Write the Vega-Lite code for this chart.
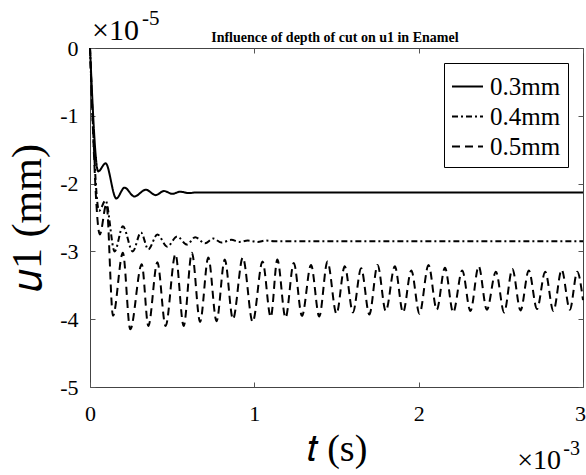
{
  "$schema": "https://vega.github.io/schema/vega-lite/v6.json",
  "width": 493,
  "height": 339,
  "autosize": {"type": "none"},
  "padding": {"left": 90, "top": 48, "right": 3, "bottom": 88},
  "background": "white",
  "config": {"view": {"stroke": "#444", "strokeWidth": 1}, "font": "Liberation Serif"},
  "resolve": {"axis": {"x": "independent", "y": "independent"}},
  "layer": [
    {
      "data": {"values": [
        {"depth": "0.3mm", "t": 0, "u": 0},
        {"depth": "0.3mm", "t": 0.05, "u": -1.82},
        {"depth": "0.3mm", "t": 0.095, "u": -1.7},
        {"depth": "0.3mm", "t": 0.16, "u": -2.22},
        {"depth": "0.3mm", "t": 0.21, "u": -2.06},
        {"depth": "0.3mm", "t": 0.27, "u": -2.19},
        {"depth": "0.3mm", "t": 0.34, "u": -2.09},
        {"depth": "0.3mm", "t": 0.4, "u": -2.17},
        {"depth": "0.3mm", "t": 0.45, "u": -2.11},
        {"depth": "0.3mm", "t": 0.5, "u": -2.15},
        {"depth": "0.3mm", "t": 0.55, "u": -2.12},
        {"depth": "0.3mm", "t": 0.6, "u": -2.14},
        {"depth": "0.3mm", "t": 0.65, "u": -2.13},
        {"depth": "0.3mm", "t": 3.0, "u": -2.13},
        {"depth": "0.4mm", "t": 0, "u": 0},
        {"depth": "0.4mm", "t": 0.055, "u": -2.4},
        {"depth": "0.4mm", "t": 0.095, "u": -2.25},
        {"depth": "0.4mm", "t": 0.15, "u": -3.0},
        {"depth": "0.4mm", "t": 0.2, "u": -2.63},
        {"depth": "0.4mm", "t": 0.26, "u": -3.0},
        {"depth": "0.4mm", "t": 0.31, "u": -2.72},
        {"depth": "0.4mm", "t": 0.355, "u": -2.97},
        {"depth": "0.4mm", "t": 0.41, "u": -2.75},
        {"depth": "0.4mm", "t": 0.47, "u": -2.93},
        {"depth": "0.4mm", "t": 0.53, "u": -2.78},
        {"depth": "0.4mm", "t": 0.59, "u": -2.9},
        {"depth": "0.4mm", "t": 0.64, "u": -2.79},
        {"depth": "0.4mm", "t": 0.7, "u": -2.88},
        {"depth": "0.4mm", "t": 0.75, "u": -2.81},
        {"depth": "0.4mm", "t": 0.8, "u": -2.87},
        {"depth": "0.4mm", "t": 0.86, "u": -2.83},
        {"depth": "0.4mm", "t": 0.91, "u": -2.86},
        {"depth": "0.4mm", "t": 0.96, "u": -2.84},
        {"depth": "0.4mm", "t": 1.02, "u": -2.86},
        {"depth": "0.4mm", "t": 1.07, "u": -2.84},
        {"depth": "0.4mm", "t": 1.12, "u": -2.85},
        {"depth": "0.4mm", "t": 3.0, "u": -2.85},
        {"depth": "0.5mm", "t": 0, "u": 0},
        {"depth": "0.5mm", "t": 0.06, "u": -2.75},
        {"depth": "0.5mm", "t": 0.1, "u": -2.3},
        {"depth": "0.5mm", "t": 0.14, "u": -3.95},
        {"depth": "0.5mm", "t": 0.2, "u": -3.02},
        {"depth": "0.5mm", "t": 0.245, "u": -4.15},
        {"depth": "0.5mm", "t": 0.315, "u": -3.19},
        {"depth": "0.5mm", "t": 0.355, "u": -4.1},
        {"depth": "0.5mm", "t": 0.41, "u": -3.16},
        {"depth": "0.5mm", "t": 0.46, "u": -4.1},
        {"depth": "0.5mm", "t": 0.52, "u": -3.04},
        {"depth": "0.5mm", "t": 0.57, "u": -4.1},
        {"depth": "0.5mm", "t": 0.62, "u": -3.02},
        {"depth": "0.5mm", "t": 0.67, "u": -4.04},
        {"depth": "0.5mm", "t": 0.72, "u": -3.09},
        {"depth": "0.5mm", "t": 0.77, "u": -4.03},
        {"depth": "0.5mm", "t": 0.82, "u": -3.12},
        {"depth": "0.5mm", "t": 0.87, "u": -4.0},
        {"depth": "0.5mm", "t": 0.93, "u": -3.09},
        {"depth": "0.5mm", "t": 0.99, "u": -4.04},
        {"depth": "0.5mm", "t": 1.05, "u": -3.15},
        {"depth": "0.5mm", "t": 1.1, "u": -3.97},
        {"depth": "0.5mm", "t": 1.14, "u": -3.12},
        {"depth": "0.5mm", "t": 1.19, "u": -3.98},
        {"depth": "0.5mm", "t": 1.24, "u": -3.17},
        {"depth": "0.5mm", "t": 1.29, "u": -3.95},
        {"depth": "0.5mm", "t": 1.345, "u": -3.2},
        {"depth": "0.5mm", "t": 1.395, "u": -3.96},
        {"depth": "0.5mm", "t": 1.445, "u": -3.15},
        {"depth": "0.5mm", "t": 1.5, "u": -3.92},
        {"depth": "0.5mm", "t": 1.55, "u": -3.22},
        {"depth": "0.5mm", "t": 1.6, "u": -3.9},
        {"depth": "0.5mm", "t": 1.65, "u": -3.25},
        {"depth": "0.5mm", "t": 1.7, "u": -3.93},
        {"depth": "0.5mm", "t": 1.75, "u": -3.2},
        {"depth": "0.5mm", "t": 1.8, "u": -3.88},
        {"depth": "0.5mm", "t": 1.855, "u": -3.22},
        {"depth": "0.5mm", "t": 1.905, "u": -3.9},
        {"depth": "0.5mm", "t": 1.955, "u": -3.28},
        {"depth": "0.5mm", "t": 2.005, "u": -3.92},
        {"depth": "0.5mm", "t": 2.06, "u": -3.2},
        {"depth": "0.5mm", "t": 2.11, "u": -3.86},
        {"depth": "0.5mm", "t": 2.16, "u": -3.24},
        {"depth": "0.5mm", "t": 2.21, "u": -3.9},
        {"depth": "0.5mm", "t": 2.265, "u": -3.28},
        {"depth": "0.5mm", "t": 2.315, "u": -3.88},
        {"depth": "0.5mm", "t": 2.365, "u": -3.22},
        {"depth": "0.5mm", "t": 2.415, "u": -3.86},
        {"depth": "0.5mm", "t": 2.47, "u": -3.3},
        {"depth": "0.5mm", "t": 2.52, "u": -3.9},
        {"depth": "0.5mm", "t": 2.57, "u": -3.26},
        {"depth": "0.5mm", "t": 2.62, "u": -3.87},
        {"depth": "0.5mm", "t": 2.67, "u": -3.28},
        {"depth": "0.5mm", "t": 2.72, "u": -3.85},
        {"depth": "0.5mm", "t": 2.77, "u": -3.3},
        {"depth": "0.5mm", "t": 2.82, "u": -3.88},
        {"depth": "0.5mm", "t": 2.87, "u": -3.27},
        {"depth": "0.5mm", "t": 2.92, "u": -3.86},
        {"depth": "0.5mm", "t": 2.965, "u": -3.3},
        {"depth": "0.5mm", "t": 3.0, "u": -3.72}
      ]},
      "mark": {"type": "line", "strokeWidth": 2, "color": "black", "interpolate": "monotone"},
      "encoding": {
        "x": {"field": "t", "type": "quantitative", "scale": {"domain": [0, 3], "nice": false, "zero": false},
          "axis": {"title": "𝑡  (s)", "titleFontSize": 38, "titleFont": "Liberation Serif", "titleFontWeight": "normal", "titleColor": "black", "titlePadding": 6,
            "values": [0, 1, 2, 3], "labelExpr": "toString(datum.value)", "labelFontSize": 22, "labelFont": "Liberation Serif", "labelColor": "black", "labelPadding": 21,
            "labelOffset": {"condition": {"test": "datum.value === 3", "value": -3}, "value": 0},
            "tickSize": -5, "tickColor": "#555", "domain": false, "grid": false, "labelFlush": false}},
        "y": {"field": "u", "type": "quantitative", "scale": {"domain": [-5, 0], "nice": false, "zero": false},
          "axis": {"title": "𝑢1  (mm)", "titleFontSize": 42, "titleFont": "Liberation Serif", "titleFontWeight": "normal", "titleColor": "black", "titlePadding": 10,
            "values": [-5, -4, -3, -2, -1, 0], "labelExpr": "toString(datum.value)", "labelFontSize": 22, "labelFont": "Liberation Serif", "labelColor": "black", "labelPadding": 17,
            "tickSize": -5, "tickColor": "#555", "domain": false, "grid": false, "labelFlush": false}},
        "strokeDash": {"field": "depth", "type": "nominal",
          "scale": {"domain": ["0.3mm", "0.4mm", "0.5mm"], "range": [[1, 0], [6, 3, 2, 3], [8, 5]]},
          "legend": {"title": null, "orient": "top-right", "offset": 15, "symbolType": "stroke", "symbolSize": 961, "symbolStrokeWidth": 2, "symbolStrokeColor": "black",
            "labelFontSize": 25, "labelFont": "Liberation Serif", "labelColor": "black", "labelOffset": 6, "strokeColor": "black", "fillColor": "white", "padding": 7, "rowPadding": 0, "cornerRadius": 0}}
      }
    },
    {
      "data": {"values": [{"t": 0, "u": 0}]},
      "mark": {"type": "point", "opacity": 0},
      "encoding": {
        "x": {"field": "t", "type": "quantitative", "axis": {"orient": "top", "title": null, "labels": false, "values": [0, 1, 2, 3], "tickSize": -5, "tickColor": "#555", "domain": false, "grid": false}},
        "y": {"field": "u", "type": "quantitative", "axis": {"orient": "right", "title": null, "labels": false, "values": [-5, -4, -3, -2, -1, 0], "tickSize": -5, "tickColor": "#555", "domain": false, "grid": false}}
      }
    },
    {
      "data": {"values": [{"t": 1.49, "u": 0, "txt": "Influence of depth of cut on u1 in Enamel"}]},
      "mark": {"type": "text", "align": "center", "baseline": "alphabetic", "dy": -6, "fontSize": 14, "fontWeight": "bold", "font": "Liberation Serif", "color": "black"},
      "encoding": {"x": {"field": "t", "type": "quantitative", "axis": null}, "y": {"field": "u", "type": "quantitative", "axis": null}, "text": {"field": "txt"}}
    },
    {
      "data": {"values": [{"t": 0, "u": 0, "txt": "×10"}]},
      "mark": {"type": "text", "align": "left", "baseline": "alphabetic", "dx": 2, "dy": -8, "fontSize": 30, "font": "Liberation Serif", "color": "black"},
      "encoding": {"x": {"field": "t", "type": "quantitative", "axis": null}, "y": {"field": "u", "type": "quantitative", "axis": null}, "text": {"field": "txt"}}
    },
    {
      "data": {"values": [{"t": 0, "u": 0, "txt": "-5"}]},
      "mark": {"type": "text", "align": "left", "baseline": "alphabetic", "dx": 52, "dy": -23, "fontSize": 21, "font": "Liberation Serif", "color": "black"},
      "encoding": {"x": {"field": "t", "type": "quantitative", "axis": null}, "y": {"field": "u", "type": "quantitative", "axis": null}, "text": {"field": "txt"}}
    },
    {
      "data": {"values": [{"t": 3, "u": -5, "txt": "×10"}]},
      "mark": {"type": "text", "align": "right", "baseline": "alphabetic", "dx": -22, "dy": 82, "fontSize": 28, "font": "Liberation Serif", "color": "black"},
      "encoding": {"x": {"field": "t", "type": "quantitative", "axis": null}, "y": {"field": "u", "type": "quantitative", "axis": null}, "text": {"field": "txt"}}
    },
    {
      "data": {"values": [{"t": 3, "u": -5, "txt": "-3"}]},
      "mark": {"type": "text", "align": "right", "baseline": "alphabetic", "dx": -3, "dy": 68, "fontSize": 20, "font": "Liberation Serif", "color": "black"},
      "encoding": {"x": {"field": "t", "type": "quantitative", "axis": null}, "y": {"field": "u", "type": "quantitative", "axis": null}, "text": {"field": "txt"}}
    }
  ]
}
